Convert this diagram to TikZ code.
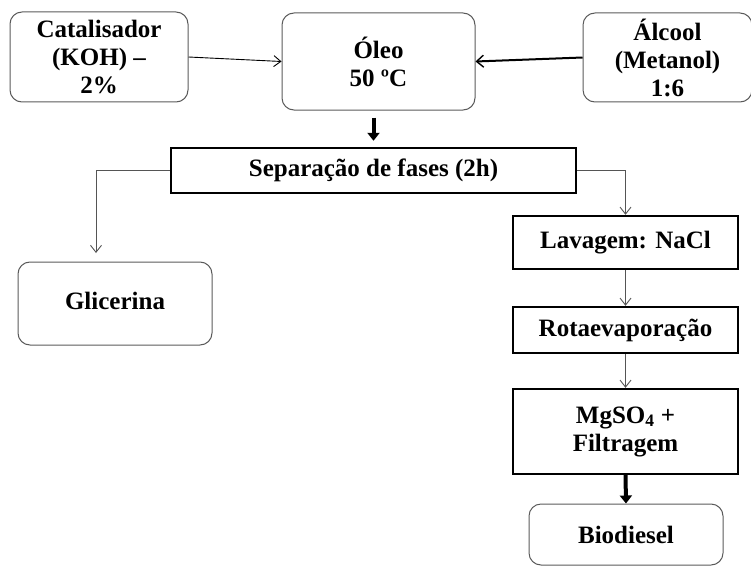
\documentclass[tikz,border=0pt]{standalone}
\usepackage{fontspec}
\setmainfont{Liberation Serif}
\usetikzlibrary{arrows.meta}
\definecolor{edgegray}{HTML}{5A5A5A}
\definecolor{linkgray}{HTML}{555555}
\begin{document}
\begin{tikzpicture}[x=1pt,y=-1pt,
  every node/.style={font=\bfseries\fontsize{25}{28}\selectfont, align=center, inner sep=0pt},
  roundbox/.style={draw=edgegray, line width=1pt, rounded corners=12pt},
  stepbox/.style={draw=black, line width=2.4pt},
  thinarrow/.style={draw=black, line width=0.9pt, -{Straight Barb[length=7pt,width=11pt]}},
  boldarrow/.style={draw=black, line width=2pt, -{Straight Barb[length=7pt,width=12pt,line width=1.4pt]}},
  grayarrow/.style={draw=linkgray, line width=0.9pt, -{Straight Barb[length=7pt,width=11pt]}},
  bigarrow/.style={draw=black, line width=4pt, -{Triangle[length=8pt,width=12pt]}}
]
\useasboundingbox (0,0) rectangle (751,567);

\node[roundbox, minimum width=178pt, minimum height=90pt] (cat) at (99,57) {Catalisador\\(KOH) –\\2\%};
\node[roundbox, minimum width=193pt, minimum height=97pt] (oleo) at (378.5,61.5) {Óleo\\50 ºC};
\node[roundbox, minimum width=169pt, minimum height=89pt] (alc) at (667.5,57.5) {Álcool\\(Metanol)\\1:6};
\node[stepbox, minimum width=405pt, minimum height=45pt] (sep) at (373.5,170.5) {Separação de fases (2h)};
\node[roundbox, minimum width=194pt, minimum height=83pt] (gli) at (115,303.5) {\raisebox{6pt}{Glicerina}};
\node[stepbox, minimum width=225pt, minimum height=53pt] (lav) at (625.5,242.5) {Lavagem: NaCl};
\node[stepbox, minimum width=225pt, minimum height=46pt] (rot) at (625.5,330) {Rotaevaporação};
\node[stepbox, minimum width=225pt, minimum height=85pt] (mg) at (625.5,431.5) {MgSO\textsubscript{4} +\\Filtragem};
\node[roundbox, minimum width=194pt, minimum height=61pt] (bio) at (626,534.5) {Biodiesel};

\coordinate (gtop) at (96,253);

\draw[thinarrow] (cat.east) -- (oleo.west);
\draw[boldarrow] (alc.west) -- (oleo.east);
\draw[bigarrow, shorten <=7pt, shorten >=6pt] (sep.north |- oleo.south) -- (sep.north);
\draw[grayarrow] (sep.east) -| (lav.north);
\draw[grayarrow] (sep.west) -| (gtop);
\draw[grayarrow] (lav.south) -- (rot.north);
\draw[grayarrow] (rot.south) -- (mg.north);
\draw[bigarrow] (mg.south) -- (bio.north);
\end{tikzpicture}
\end{document}
